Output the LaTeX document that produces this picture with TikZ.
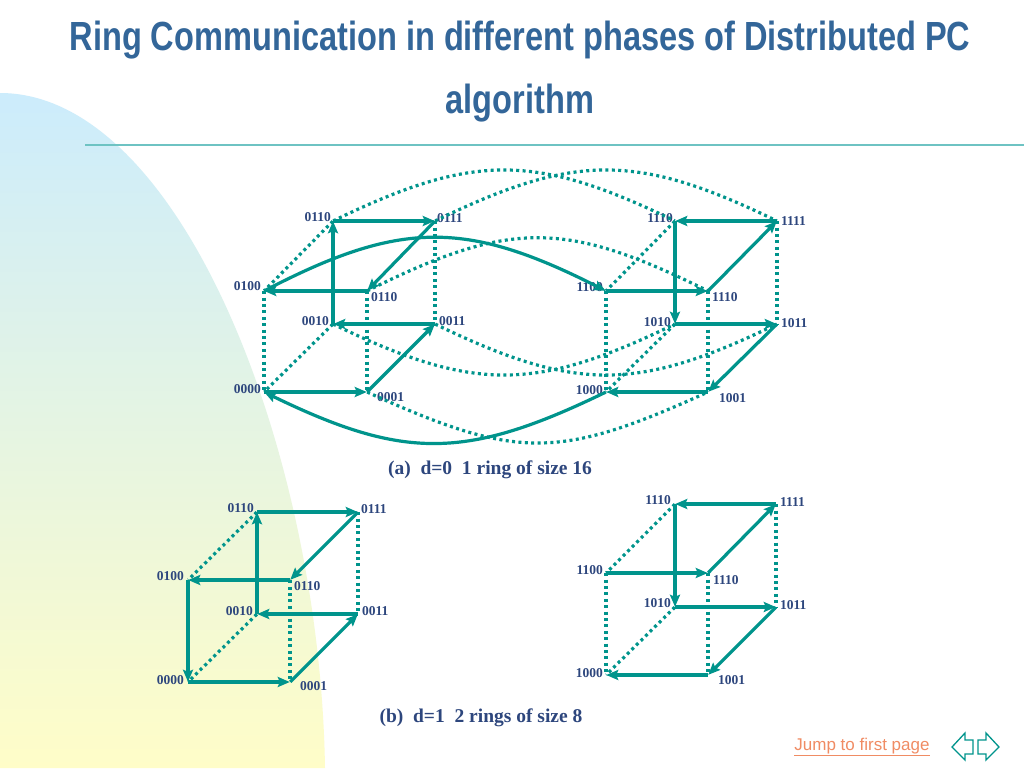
\documentclass[tikz,border=0pt]{standalone}
\usepackage{fontspec}
\setmainfont{Liberation Serif}
\newfontfamily\titlefont[FakeStretch=0.8]{Liberation Sans}
\newfontfamily\linkfont{Liberation Sans}
\usetikzlibrary{arrows.meta}

\definecolor{ringteal}{RGB}{0,148,140}
\definecolor{lblblue}{RGB}{45,70,125}
\definecolor{titleblue}{RGB}{51,102,153}
\definecolor{ruleteal}{RGB}{110,195,195}
\definecolor{blobblue}{RGB}{204,236,252}
\definecolor{blobyellow}{RGB}{255,253,200}
\definecolor{linkorange}{RGB}{240,140,100}

\begin{document}
\begin{tikzpicture}[x=1pt, y=-1pt, v/.style = {inner sep=0pt, minimum size=0pt},
		lbl/.style = {text=lblblue, font=\bfseries\fontsize{13.5}{14}\selectfont, inner sep=0pt},
		caption/.style = {text=lblblue, font=\bfseries\fontsize{19.5}{22}\selectfont, inner sep=0pt},
		ring/.style = {draw=ringteal, line width=3.2pt, -{Stealth[length=12pt,width=10pt,inset=2pt]}},
		link/.style = {draw=ringteal, line width=3.2pt, dash pattern=on 3pt off 3.4pt}]

	% page and background
	\useasboundingbox (0,0) rectangle (1024,768);
	\fill[white] (0,0) rectangle (1024,768);
	\shade[top color=blobblue, bottom color=blobyellow] (0,93) .. controls (180,93) and (320,450) .. (325,768) -- (0,768) -- cycle;
	\draw[ruleteal, line width=2pt] (85,145) -- (1024,145);

	% title
	\node[text=titleblue, font=\titlefont\bfseries\fontsize{40.7}{44}\selectfont, anchor=base] (title1) at (520,50) {Ring Communication in different phases of Distributed PC};
	\node[text=titleblue, font=\titlefont\bfseries\fontsize{40.7}{44}\selectfont, anchor=base] (title2) at (520,113) {algorithm};

	% (a) d=0
	\node[v] (a0110) at (333,221) {};
	\node[v] (a0111) at (435,221) {};
	\node[v] (a0100) at (264,291) {};
	\node[v] (a0101) at (367,291) {};
	\node[v] (a0010) at (333,324) {};
	\node[v] (a0011) at (435,324) {};
	\node[v] (a0000) at (264,392) {};
	\node[v] (a0001) at (367,392) {};
	\node[v] (a1110) at (675,221) {};
	\node[v] (a1111) at (777,221) {};
	\node[v] (a1100) at (606,291) {};
	\node[v] (a1101) at (708,291) {};
	\node[v] (a1010) at (675,324) {};
	\node[v] (a1011) at (777,324) {};
	\node[v] (a1000) at (606,392) {};
	\node[v] (a1001) at (708,392) {};

	\node[lbl, anchor=east] (la0110) at (331,217) {0110};
	\node[lbl, anchor=west] (la0111) at (437,218) {0111};
	\node[lbl, anchor=east] (la0100) at (261,286) {0100};
	\node[lbl, anchor=west] (la0101) at (371,297) {0110};
	\node[lbl, anchor=east] (la0010) at (329,321) {0010};
	\node[lbl, anchor=west] (la0011) at (439,321) {0011};
	\node[lbl, anchor=east] (la0000) at (261,389) {0000};
	\node[lbl, anchor=west] (la0001) at (377,397) {0001};
	\node[lbl, anchor=east] (la1110) at (673,218) {1110};
	\node[lbl, anchor=west] (la1111) at (781,221) {1111};
	\node[lbl, anchor=east] (la1100) at (603,287) {1100};
	\node[lbl, anchor=west] (la1101) at (712,297) {1110};
	\node[lbl, anchor=east] (la1010) at (671,322) {1010};
	\node[lbl, anchor=west] (la1011) at (781,323) {1011};
	\node[lbl, anchor=east] (la1000) at (603,390) {1000};
	\node[lbl, anchor=west] (la1001) at (719,398) {1001};

	\draw[link] (a0110) -- (a0100);
	\draw[link] (a0100) -- (a0000);
	\draw[link] (a0101) -- (a0001);
	\draw[link] (a0111) -- (a0011);
	\draw[link] (a0010) -- (a0000);
	\draw[link] (a1110) -- (a1100);
	\draw[link] (a1100) -- (a1000);
	\draw[link] (a1101) -- (a1001);
	\draw[link] (a1111) -- (a1011);
	\draw[link] (a1010) -- (a1000);
	\draw[link] (a0110) .. controls (473,153) and (535,153) .. (a1110);
	\draw[link] (a0111) .. controls (575,153) and (637,153) .. (a1111);
	\draw[link] (a0101) .. controls (510,220) and (565,220) .. (a1101);
	\draw[link] (a0010) .. controls (473,392) and (535,392) .. (a1010);
	\draw[link] (a0011) .. controls (575,392) and (637,392) .. (a1011);
	\draw[link] (a0001) .. controls (517,460) and (558,460) .. (a1001);

	\draw[ring] (a0000) -- (a0001);
	\draw[ring] (a0001) -- (a0011);
	\draw[ring] (a0011) -- (a0010);
	\draw[ring] (a0010) -- (a0110);
	\draw[ring] (a0110) -- (a0111);
	\draw[ring] (a0111) -- (a0101);
	\draw[ring] (a0101) -- (a0100);
	\draw[ring] (a0100) .. controls (400,220) and (466,220) .. (a1100);
	\draw[ring] (a1100) -- (a1101);
	\draw[ring] (a1101) -- (a1111);
	\draw[ring] (a1111) -- (a1110);
	\draw[ring] (a1110) -- (a1010);
	\draw[ring] (a1010) -- (a1011);
	\draw[ring] (a1011) -- (a1001);
	\draw[ring] (a1001) -- (a1000);
	\draw[ring] (a1000) .. controls (466,460) and (404,460) .. (a0000);

	\node[caption] (capa) at (490,470) {(a)\ \ d=0\ \ 1 ring of size 16};

	% (b) d=1
	\node[v] (b0110) at (257,512) {};
	\node[v] (b0111) at (358,512) {};
	\node[v] (b0100) at (188,580) {};
	\node[v] (b0101) at (290,580) {};
	\node[v] (b0010) at (257,614) {};
	\node[v] (b0011) at (358,614) {};
	\node[v] (b0000) at (188,682) {};
	\node[v] (b0001) at (290,682) {};
	\node[v] (b1110) at (675,504) {};
	\node[v] (b1111) at (776,504) {};
	\node[v] (b1100) at (606,573) {};
	\node[v] (b1101) at (708,573) {};
	\node[v] (b1010) at (675,607) {};
	\node[v] (b1011) at (776,607) {};
	\node[v] (b1000) at (606,675) {};
	\node[v] (b1001) at (708,675) {};

	\node[lbl, anchor=east] (lb0110) at (254,508) {0110};
	\node[lbl, anchor=west] (lb0111) at (361,509) {0111};
	\node[lbl, anchor=east] (lb0100) at (184,576) {0100};
	\node[lbl, anchor=west] (lb0101) at (294,586) {0110};
	\node[lbl, anchor=east] (lb0010) at (253,611) {0010};
	\node[lbl, anchor=west] (lb0011) at (362,611) {0011};
	\node[lbl, anchor=east] (lb0000) at (184,680) {0000};
	\node[lbl, anchor=west] (lb0001) at (300,686) {0001};
	\node[lbl, anchor=east] (lb1110) at (671,500) {1110};
	\node[lbl, anchor=west] (lb1111) at (780,502) {1111};
	\node[lbl, anchor=east] (lb1100) at (603,570) {1100};
	\node[lbl, anchor=west] (lb1101) at (713,580) {1110};
	\node[lbl, anchor=east] (lb1010) at (671,603) {1010};
	\node[lbl, anchor=west] (lb1011) at (780,605) {1011};
	\node[lbl, anchor=east] (lb1000) at (603,673) {1000};
	\node[lbl, anchor=west] (lb1001) at (718,680) {1001};

	\draw[link] (b0110) -- (b0100);
	\draw[link] (b0101) -- (b0001);
	\draw[link] (b0111) -- (b0011);
	\draw[link] (b0010) -- (b0000);
	\draw[link] (b1110) -- (b1100);
	\draw[link] (b1100) -- (b1000);
	\draw[link] (b1101) -- (b1001);
	\draw[link] (b1111) -- (b1011);
	\draw[link] (b1010) -- (b1000);

	\draw[ring] (b0000) -- (b0001);
	\draw[ring] (b0001) -- (b0011);
	\draw[ring] (b0011) -- (b0010);
	\draw[ring] (b0010) -- (b0110);
	\draw[ring] (b0110) -- (b0111);
	\draw[ring] (b0111) -- (b0101);
	\draw[ring] (b0101) -- (b0100);
	\draw[ring] (b0100) -- (b0000);
	\draw[ring] (b1100) -- (b1101);
	\draw[ring] (b1101) -- (b1111);
	\draw[ring] (b1111) -- (b1110);
	\draw[ring] (b1110) -- (b1010);
	\draw[ring] (b1010) -- (b1011);
	\draw[ring] (b1011) -- (b1001);
	\draw[ring] (b1001) -- (b1000);

	\node[caption] (capb) at (481,718) {(b)\ \ d=1\ \ 2 rings of size 8};

	% footer
	\node[text=linkorange, font=\linkfont\fontsize{17}{20}\selectfont, anchor=base] (jump) at (862,750) {\underline{Jump to first page}};
	\draw[ringteal, line width=1.3pt, fill=white, line join=miter] (952,747) -- (965,733) -- (965,740) -- (973,740) -- (973,754) -- (965,754) -- (965,760) -- cycle;
	\draw[ringteal, line width=1.3pt, fill=white, line join=miter] (999,747) -- (986,733) -- (986,740) -- (978,740) -- (978,754) -- (986,754) -- (986,760) -- cycle;

\end{tikzpicture}
\end{document}
